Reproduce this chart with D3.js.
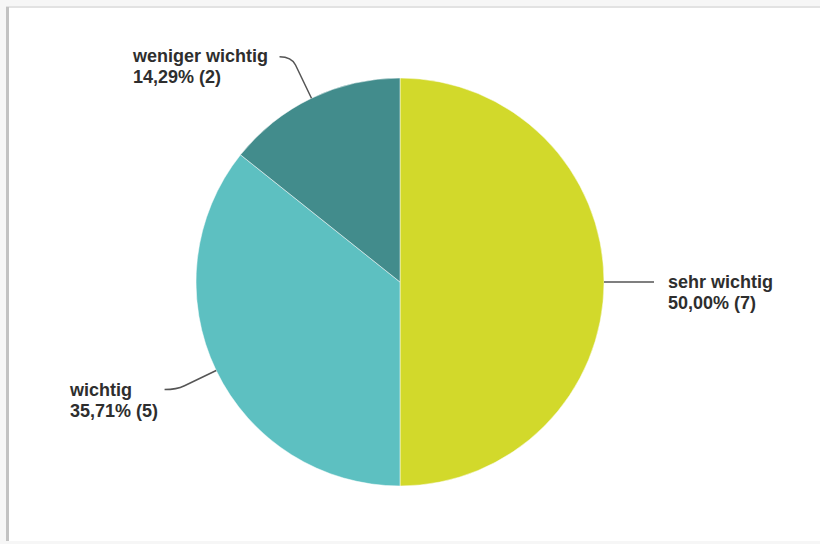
<!DOCTYPE html>
<html>
<head>
<meta charset="utf-8">
<script src="https://cdn.jsdelivr.net/npm/d3@7"></script>
<style>
  html, body { margin: 0; padding: 0; background: #fff; }
  svg { display: block; }
  text { font-family: "Liberation Sans", Arial, sans-serif; font-weight: bold; font-size: 18px; fill: #2e2e2e; }
</style>
</head>
<body>
<svg></svg>
<script>
let width = 820, height = 544;

// Daten
let categories = ["sehr wichtig", "wichtig", "weniger wichtig"];
let counts = [7, 5, 2];
let percentLabels = ["50,00%", "35,71%", "14,29%"];
let colors = ["#d2d92b", "#5dc0c1", "#428c8c"];

let cx = 400, cy = 282, r = 204;

let svg = d3.select("svg")
  .attr("width", width)
  .attr("height", height);

// Hintergrund / Karte
svg.append("rect").attr("width", width).attr("height", height).attr("fill", "#f6f6f6");
svg.append("rect").attr("x", 6).attr("y", 6).attr("width", width - 6).attr("height", height - 9).attr("fill", "#e2e2e2");
svg.append("rect").attr("x", 6).attr("y", 7).attr("width", 3).attr("height", height - 10).attr("fill", "#c2c2c2");
svg.append("rect").attr("x", 9).attr("y", 8).attr("width", width - 9).attr("height", height - 11).attr("fill", "#fff");

let data = categories.map((c, i) => ({ name: c, value: counts[i], pct: percentLabels[i], color: colors[i] }));

let pie = d3.pie().sort(null).value(d => d.value);
let arc = d3.arc().innerRadius(0).outerRadius(r);
let arcs = pie(data);

let g = svg.append("g").attr("transform", `translate(${cx},${cy})`);

g.selectAll("path.slice")
  .data(arcs)
  .enter()
  .append("path")
  .attr("class", "slice")
  .attr("d", arc)
  .attr("fill", d => d.data.color)
  .attr("stroke", "#fff")
  .attr("stroke-width", 0.5);

// Beschriftungen mit Linien
let labelSetup = {
  "sehr wichtig":    { ext: 0,  hx: 50,  tx: 268, ty: 6,    anchor: "start" },
  "wichtig":         { ext: 44, hx: -12, tx: -330, ty: 114, anchor: "start" },
  "weniger wichtig": { ext: 46, hx: -12, tx: -267, ty: -220, anchor: "start" }
};

arcs.forEach(a => {
  let s = labelSetup[a.data.name];
  let mid = (a.startAngle + a.endAngle) / 2;
  let dx = Math.sin(mid), dy = -Math.cos(mid);
  let p0 = [dx * r, dy * r];
  let p1 = [dx * (r + s.ext), dy * (r + s.ext)];
  let p2 = [p1[0] + s.hx, p1[1]];
  let path = d3.path();
  path.moveTo(p0[0], p0[1]);
  if (s.ext > 0) {
    path.lineTo(p0[0] + dx * s.ext * 0.8, p0[1] + dy * s.ext * 0.8);
    path.quadraticCurveTo(p1[0], p1[1], p2[0], p2[1]);
  } else {
    path.lineTo(p2[0], p2[1]);
  }
  g.append("path")
    .attr("d", path.toString())
    .attr("fill", "none")
    .attr("stroke", "#555")
    .attr("stroke-width", 1.5);

  let t = g.append("text").attr("x", s.tx).attr("y", s.ty).attr("text-anchor", s.anchor);
  t.append("tspan").attr("x", s.tx).text(a.data.name);
  t.append("tspan").attr("x", s.tx).attr("dy", 21).text(`${a.data.pct} (${a.data.value})`);
});
</script>
</body>
</html>
